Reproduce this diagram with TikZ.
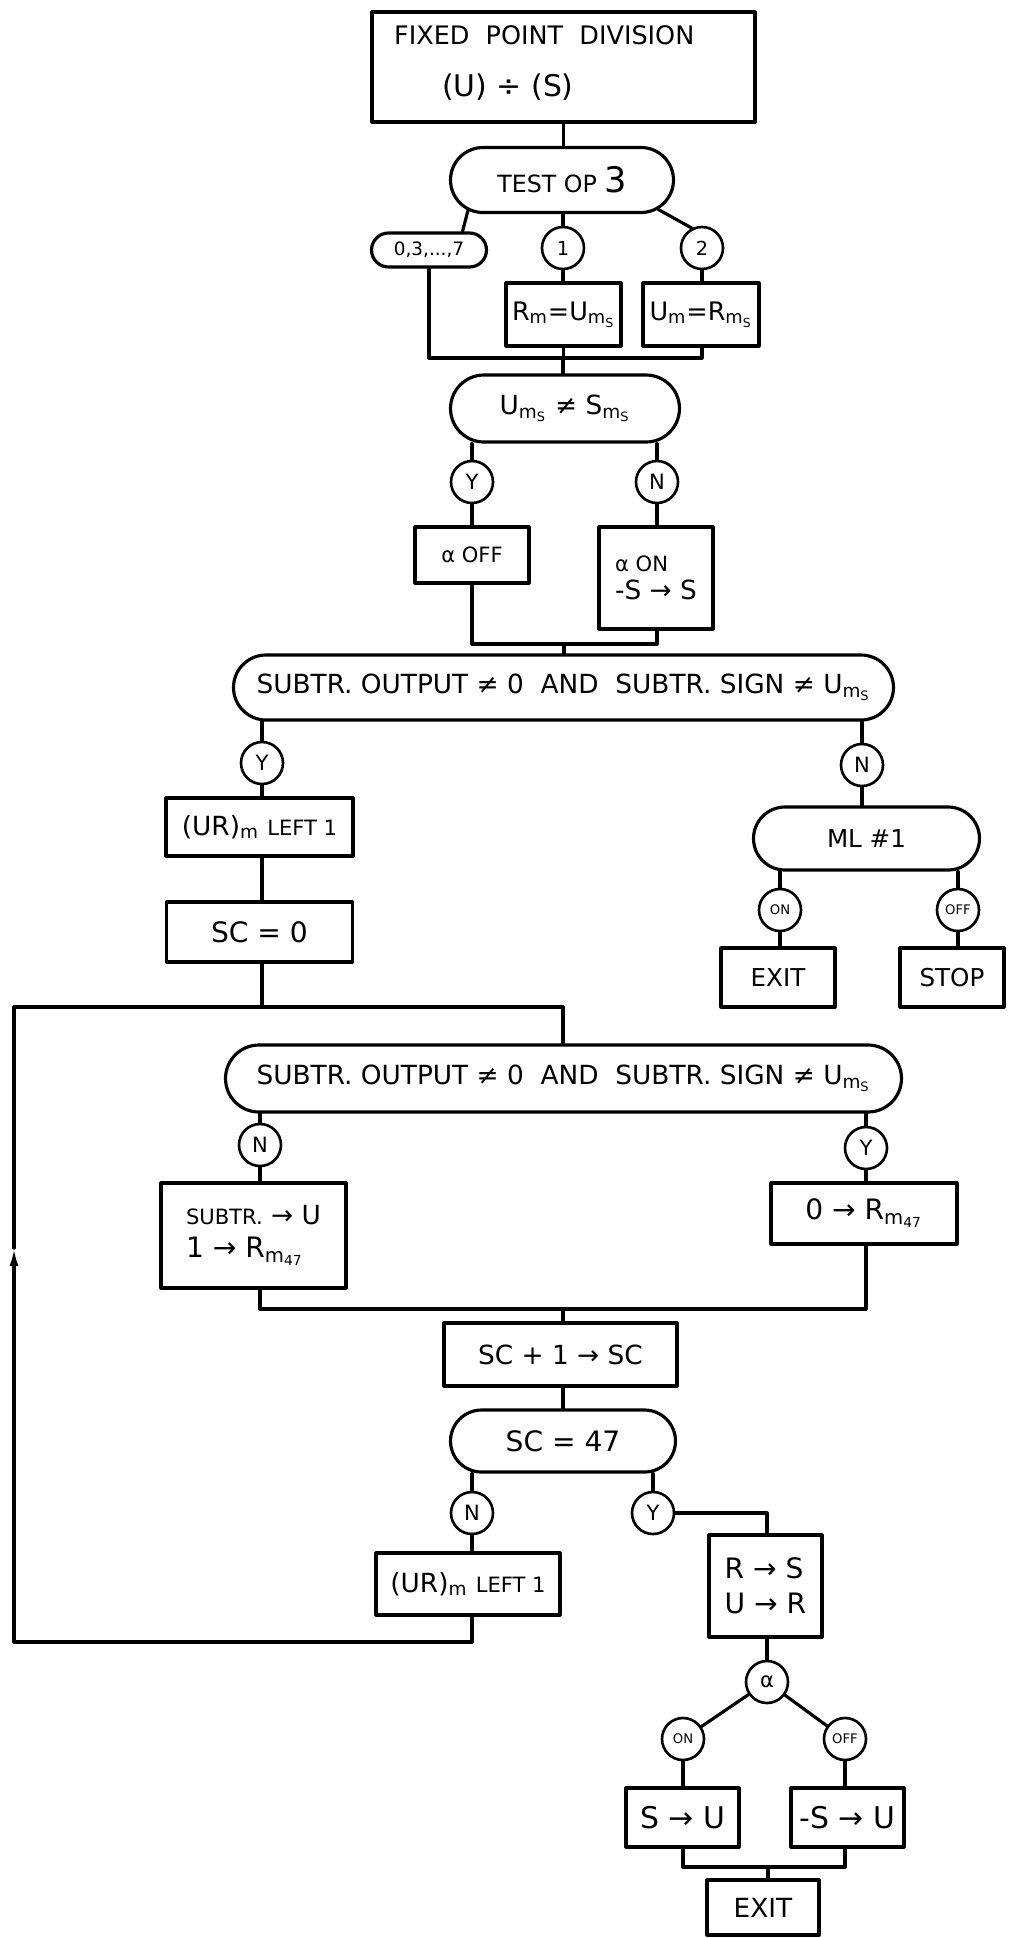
\documentclass[tikz,border=0pt]{standalone}
\usepackage{fontspec}
\setmainfont{DejaVu Sans}
\usetikzlibrary{shapes.misc,arrows.meta}
\newcommand\sbs[1]{\textsubscript{#1}}
\newcommand\fs[1]{\fontsize{#1}{#1}\selectfont}
\tikzset{
  wh/.style 2 args={minimum width=#1*0.02cm, minimum height=#2*0.02cm},
  ink/.style={line width=1.8pt, line cap=round, line join=round},
  procbox/.style={draw, ink, rectangle, inner sep=2pt, align=center},
  decision/.style={draw, ink, rounded rectangle, inner sep=2pt, align=center},
  branch/.style={draw, line width=1.5pt, circle, inner sep=0pt, minimum size=42*0.02cm},
  conn/.style={ink},
  loopconn/.style={ink, -{Latex[length=0.36cm, width=0.18cm]}},
}
\begin{document}
\begin{tikzpicture}[x=0.02cm, y=-0.02cm]
\useasboundingbox (0,0) rectangle (1009,1938);

% ---- entry and operation test ----
\node[procbox, wh={383}{110}] (top) at (563.5,67) {};
\node[anchor=west, font=\fs{14.5}] (toptxt1) at (388,35) {FIXED\ \ POINT\ \ DIVISION};
\node[anchor=west, font=\fs{17}] (toptxt2) at (436,87) {(U) ÷ (S)};

\node[decision, wh={230}{65}, font=\fs{13.5}] (test) at (562,180) {TEST\ OP {\fs{20}3}};
\node[decision, wh={122}{34}, font=\fs{10.5}] (c037) at (429,250) {0,3,...,7};
\node[branch, font=\fs{11}] (c1) at (563,248) {1};
\node[branch, font=\fs{11}] (c2) at (702,248) {2};
\node[procbox, wh={115}{63}, font=\fs{14.5}] (b1) at (563.5,314.5) {R\sbs{m}=U\sbs{m\sbs{S}}};
\node[procbox, wh={116}{63}, font=\fs{14.5}] (b2) at (701,314.5) {U\sbs{m}=R\sbs{m\sbs{S}}};

% ---- sign comparison ----
\node[decision, wh={236}{67}, font=\fs{15}] (ums) at (565,408.5) {U\sbs{m\sbs{S}} ≠ S\sbs{m\sbs{S}}};
\node[branch, font=\fs{12}] (cY1) at (472,482) {Y};
\node[branch, font=\fs{12}] (cN1) at (657,482) {N};
\node[procbox, wh={114}{56}, font=\fs{12}] (aoff) at (472,555) {α OFF};
\node[procbox, wh={114}{102}, align=left, font=\fs{12}] (aon) at (656,578) {α ON\\[4pt]{\fs{15}-S → S}};

% ---- overflow test ----
\node[decision, wh={667}{65}, font=\fs{15}] (ov1) at (563.5,687.5) {SUBTR. OUTPUT ≠ 0\ \ AND\ \ SUBTR. SIGN ≠ U\sbs{m\sbs{S}}};
\node[branch, font=\fs{12}] (cY2) at (262,763) {Y};
\node[branch, font=\fs{12}] (cN4) at (862,765) {N};
\node[procbox, wh={187}{58}, font=\fs{15}] (ur1) at (259.5,827) {(UR)\sbs{m} {\fs{12}LEFT 1}};
\node[procbox, wh={186}{60}, font=\fs{16}] (sc0) at (259.5,932) {SC = 0};
\node[decision, wh={233}{63}, font=\fs{14}] (ml) at (866.5,838.5) {ML \#1};
\node[branch, font=\fs{7.5}] (con1) at (780,910) {ON};
\node[branch, font=\fs{7.5}] (coff1) at (958,910) {OFF};
\node[procbox, wh={114}{59}, font=\fs{14}] (exit1) at (778,977.5) {EXIT};
\node[procbox, wh={104}{59}, font=\fs{14}] (stop) at (952,977.5) {STOP};

% ---- division loop ----
\node[decision, wh={683}{67}, font=\fs{15}] (ov2) at (563.5,1078.5) {SUBTR. OUTPUT ≠ 0\ \ AND\ \ SUBTR. SIGN ≠ U\sbs{m\sbs{S}}};
\node[branch, font=\fs{12}] (cN2) at (260,1145) {N};
\node[branch, font=\fs{12}] (cY3) at (866,1148) {Y};
\node[procbox, wh={185}{105}, align=left, font=\fs{15}] (subu) at (253.5,1235.5) {{\fs{12}SUBTR.} → U\\[4pt]{\fs{16}1 → R\sbs{m\sbs{47}}}};
\node[procbox, wh={186}{61}, font=\fs{16}] (zr) at (864,1213.5) {0 → R\sbs{m\sbs{47}}};
\node[procbox, wh={233}{63}, font=\fs{15}] (sc1) at (560.5,1354.5) {SC + 1 → SC};
\node[decision, wh={232}{62}, font=\fs{16}] (sc47) at (563,1441) {SC = 47};
\node[branch, font=\fs{12}] (cN3) at (472,1513) {N};
\node[branch, font=\fs{12}] (cY4) at (653,1513) {Y};
\node[procbox, wh={184}{62}, font=\fs{15}] (ur2) at (468,1584) {(UR)\sbs{m} {\fs{12}LEFT 1}};

% ---- final sign correction ----
\node[procbox, wh={113}{102}, align=left, font=\fs{16}] (rs) at (765.5,1586) {R → S\\[4pt]U → R};
\node[branch, font=\fs{12}] (calpha) at (767,1682) {α};
\node[branch, font=\fs{7.5}] (con2) at (683,1739) {ON};
\node[branch, font=\fs{7.5}] (coff2) at (845,1739) {OFF};
\node[procbox, wh={113}{59}, font=\fs{17}] (su) at (682.5,1817.5) {S → U};
\node[procbox, wh={113}{59}, font=\fs{17}] (nsu) at (847.5,1817.5) {-S → U};
\node[procbox, wh={112}{55}, font=\fs{15}] (exit2) at (763,1907.5) {EXIT};

% ---- junction points ----
\coordinate (j1) at (563,358);
\coordinate (j2) at (564,644);
\coordinate (loopJ) at (563,1007);
\coordinate (loopBL) at (14,1642);
\coordinate (loopArr) at (14,1248);
\coordinate (loopTL) at (14,1007);
\coordinate (j3) at (563,1309);
\coordinate (j4) at (768,1867);

% ---- connectors ----
\draw[conn] (top.south) -- (top.south |- test.north);
\draw[conn] (test.198) -- (c037.29);
\draw[conn] (c1.north) -- (c1 |- test.south);
\draw[conn] (test.-17) -- (c2.117);
\draw[conn] (c1.south) -- (c1 |- b1.north);
\draw[conn] (c2.south) -- (c2 |- b2.north);
\draw[conn] (c037.south) |- (j1) -| (c2 |- b2.south);
\draw[conn] (b1.south) -- (b1.south |- j1);
\draw[conn] (j1) -- (j1 |- ums.north);

\draw[conn] (cY1.north) -- (cY1 |- ums.south);
\draw[conn] (cN1.north) -- (cN1 |- ums.south);
\draw[conn] (cY1.south) -- (cY1 |- aoff.north);
\draw[conn] (cN1.south) -- (cN1 |- aon.north);
\draw[conn] (cY1 |- aoff.south) |- (j2) -| (cN1 |- aon.south);
\draw[conn] (j2) -- (j2 |- ov1.north);

\draw[conn] (cY2.north) -- (cY2 |- ov1.south);
\draw[conn] (cN4.north) -- (cN4 |- ov1.south);
\draw[conn] (cY2.south) -- (cY2 |- ur1.north);
\draw[conn] (cY2 |- ur1.south) -- (cY2 |- sc0.north);
\draw[conn] (cN4.south) -- (cN4 |- ml.north);
\draw[conn] (con1.north) -- (con1 |- ml.south);
\draw[conn] (coff1.north) -- (coff1 |- ml.south);
\draw[conn] (con1.south) -- (con1 |- exit1.north);
\draw[conn] (coff1.south) -- (coff1 |- stop.north);

\draw[conn] (cY2 |- sc0.south) -- (cY2 |- loopJ);
\draw[conn] (loopTL) -- (loopJ) -- (loopJ |- ov2.north);

\draw[conn] (cN2.north) -- (cN2 |- ov2.south);
\draw[conn] (cY3.north) -- (cY3 |- ov2.south);
\draw[conn] (cN2.south) -- (cN2 |- subu.north);
\draw[conn] (cY3.south) -- (cY3 |- zr.north);
\draw[conn] (cN2 |- subu.south) |- (j3) -| (cY3 |- zr.south);
\draw[conn] (j3) -- (j3 |- sc1.north);
\draw[conn] (sc47.north |- sc1.south) -- (sc47.north);

\draw[conn] (cN3.north) -- (cN3 |- sc47.south);
\draw[conn] (cY4.north) -- (cY4 |- sc47.south);
\draw[conn] (cN3.south) -- (cN3 |- ur2.north);
\draw[loopconn] (cN3 |- ur2.south) |- (loopBL) -- (loopArr);
\draw[conn] (loopArr) -- (loopTL);

\draw[conn] (cY4.east) -| (calpha |- rs.north);
\draw[conn] (calpha |- rs.south) -- (calpha.north);
\draw[conn] (calpha) -- (con2);
\draw[conn] (calpha) -- (coff2);
\draw[conn] (con2.south) -- (con2 |- su.north);
\draw[conn] (coff2.south) -- (coff2 |- nsu.north);
\draw[conn] (con2 |- su.south) |- (j4) -| (coff2 |- nsu.south);
\draw[conn] (j4) -- (j4 |- exit2.north);
\end{tikzpicture}
\end{document}
